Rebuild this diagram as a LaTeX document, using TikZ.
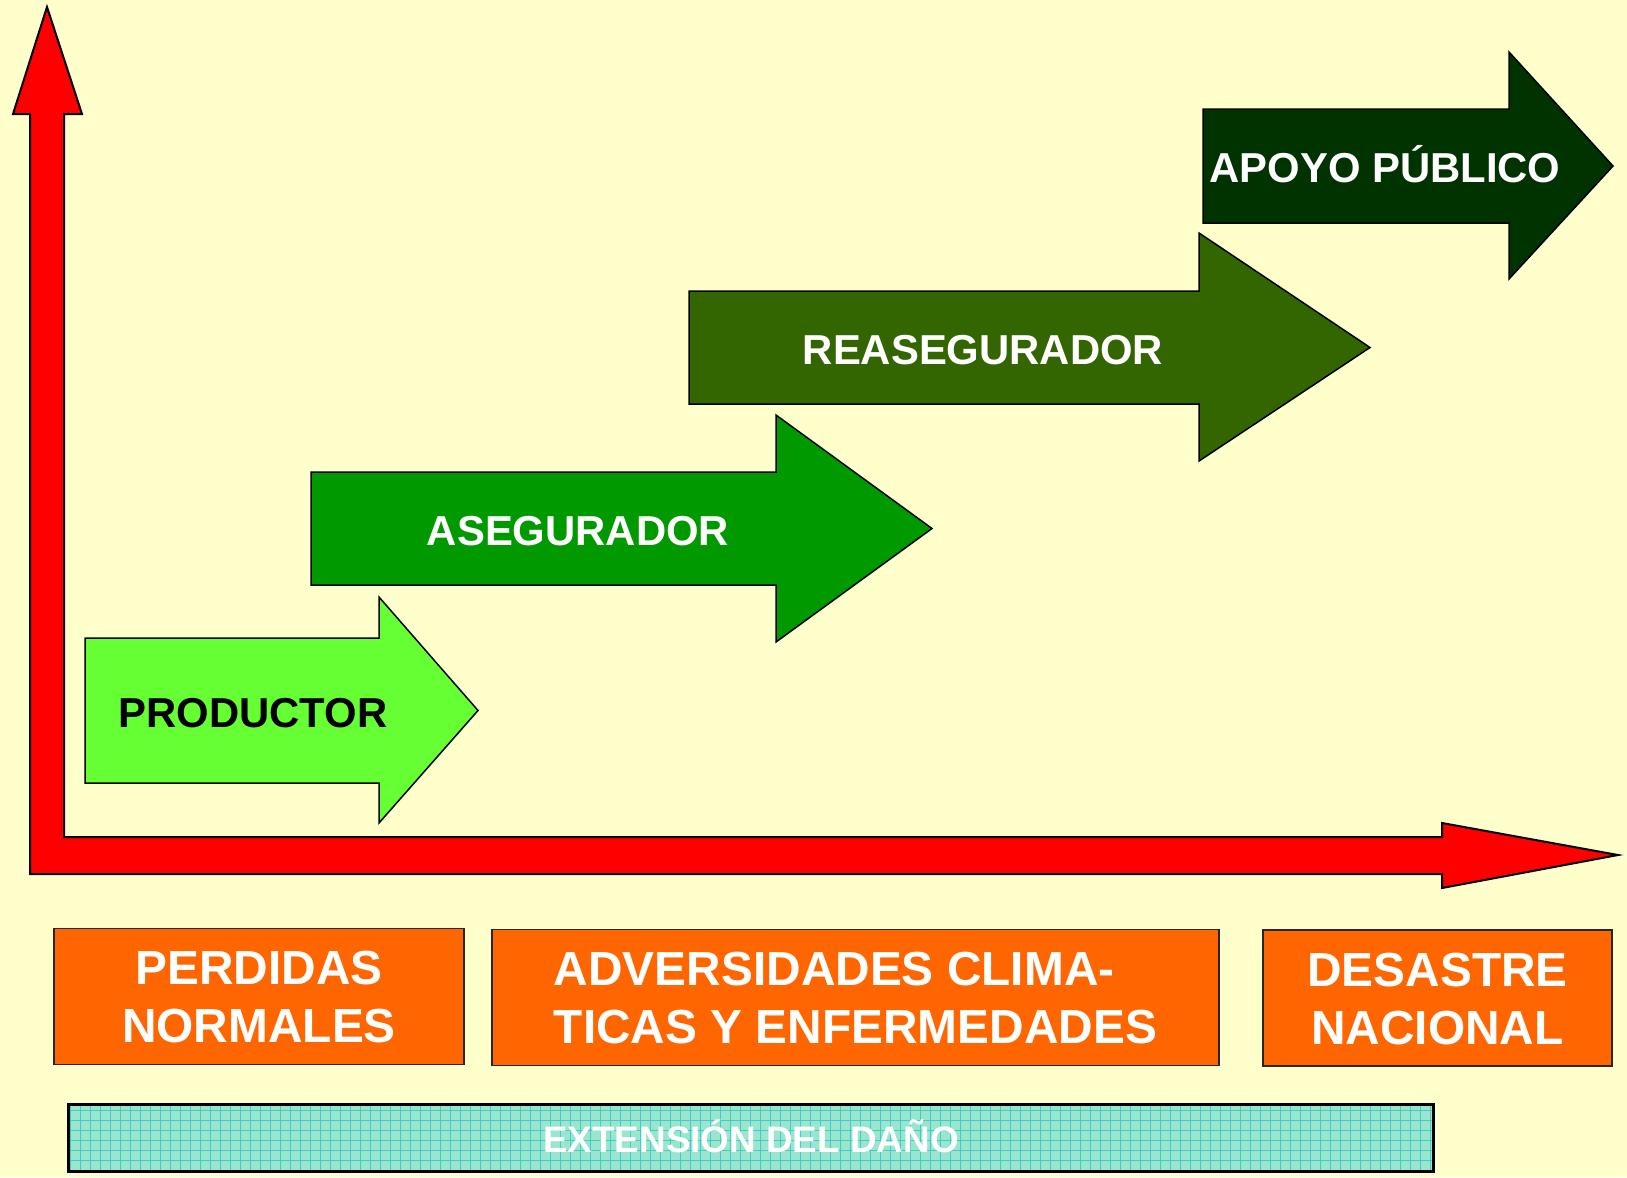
\documentclass[tikz,border=0pt]{standalone}
\usepackage{fontspec}
\setmainfont{Liberation Sans}
\usepackage{tikz}

\definecolor{bgyellow}{HTML}{FFFFCC}
\definecolor{axisred}{HTML}{FF0000}
\definecolor{prodgreen}{HTML}{66FF33}
\definecolor{asegreen}{HTML}{009900}
\definecolor{reagreen}{HTML}{336600}
\definecolor{apoyogreen}{HTML}{003300}
\definecolor{boxorange}{HTML}{FF6600}
\definecolor{barteal}{HTML}{99E6CC}
\definecolor{gridteal}{HTML}{40CCCC}

\begin{document}
\begin{tikzpicture}[x=1bp,y=-1bp,
  stage/.style={draw=black,line width=1.5bp},
  stagetext/.style={font=\fontsize{42}{50}\selectfont\bfseries,text=white,inner sep=0pt,anchor=base},
  lossbox/.style={draw=black!85,line width=1.5bp,fill=boxorange,text=white,
    font=\fontsize{48}{58}\selectfont\bfseries,inner sep=0pt,
    minimum height=136bp,text height=92bp,text depth=0bp}]
\newcommand{\stagearrow}[8]{%
  \draw[stage,fill=#1] (#2,#3) -- (#5,#3) -- (#5,#6) -- (#8,{(#3+#4)/2}) -- (#5,#7) -- (#5,#4) -- (#2,#4) -- cycle;}

\useasboundingbox (0,0) rectangle (1627,1177);
\fill[bgyellow] (0,0) rectangle (1627,1177);

% axes
\draw[line width=2bp,fill=axisred] (30,874) -- (30,114) -- (13,114) -- (47,7) -- (82,114) -- (64,114)
  -- (64,837) -- (1442,837) -- (1442,823) -- (1618,855) -- (1442,888) -- (1442,874) -- cycle;

% stages
\stagearrow{prodgreen}{85}{638}{783}{379}{597}{823}{478}
\stagearrow{asegreen}{311}{472}{585}{776}{415}{642}{932}
\stagearrow{reagreen}{689}{291}{404}{1199}{233}{461}{1370}
\stagearrow{apoyogreen}{1203}{109}{223}{1509}{52}{279}{1613}

\node[stagetext,text=black] (productor) at (253,727) {PRODUCTOR};
\node[stagetext] (asegurador) at (578,545) {ASEGURADOR};
\node[stagetext] (reasegurador) at (983,364) {REASEGURADOR};
\node[stagetext] (apoyo) at (1385,182) {APOYO PÚBLICO};

% loss classes
\node[lossbox,align=center,minimum width=410bp] (perdidas) at (259,996.5) {PERDIDAS\\NORMALES};
\node[lossbox,align=left,minimum width=727bp] (adversidades) at (855.5,997.5)
  {ADVERSIDADES CLIMA-\\TICAS Y ENFERMEDADES};
\node[lossbox,align=center,minimum width=349bp] (desastre) at (1437.5,998) {DESASTRE\\NACIONAL};

% extent bar
\fill[barteal] (69,1104) rectangle (1433,1171);
\draw[gridteal,line width=0.8bp,step=10bp] (69,1104) grid (1433,1171);
\node[draw=black,line width=3bp,minimum width=1364bp,minimum height=67bp] (extension) at (751,1137.5) {};
\node[stagetext,font=\fontsize{37}{44}\selectfont\bfseries] (extlabel) at (751,1152) {EXTENSIÓN DEL DAÑO};
\end{tikzpicture}
\end{document}
